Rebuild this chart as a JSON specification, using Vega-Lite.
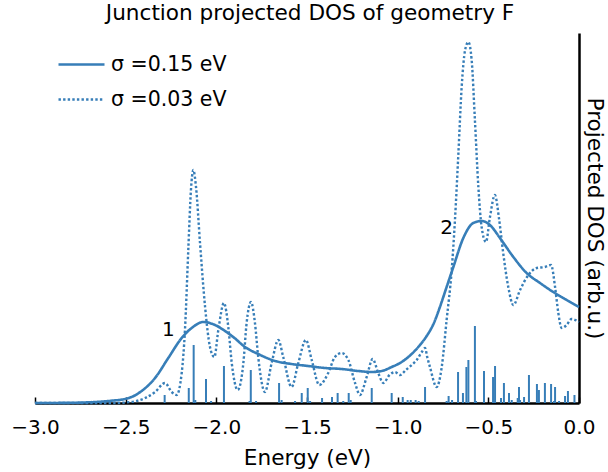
{
"$schema": "https://vega.github.io/schema/vega-lite/v6.json",
"width": 544, "height": 370,
"autosize": {"type": "none"},
"padding": {"left": 35, "top": 33, "right": 29, "bottom": 69},
"title": {"text": "Junction projected DOS of geometry F", "fontSize": 21.6, "fontWeight": "normal", "font": "DejaVu Sans", "frame": "group", "anchor": "middle", "baseline": "bottom", "offset": 6, "dy": 20, "dx": 3, "color": "black"},
"config": {"view": {"stroke": null}, "font": "DejaVu Sans"},
"datasets": {
"sticks": [
{"E":-2.285,"h":8},{"E":-2.152,"h":15},{"E":-2.125,"h":58},{"E":-2.116,"h":3},{"E":-2.057,"h":24},{"E":-2.029,"h":2},{"E":-1.958,"h":37},
{"E":-1.817,"h":2},{"E":-1.810,"h":33},{"E":-1.781,"h":2},{"E":-1.654,"h":20},{"E":-1.640,"h":3},{"E":-1.566,"h":2},{"E":-1.529,"h":10},{"E":-1.496,"h":15},{"E":-1.483,"h":2},{"E":-1.417,"h":5},
{"E":-1.362,"h":6},{"E":-1.331,"h":10},{"E":-1.300,"h":2},{"E":-1.270,"h":10},{"E":-1.259,"h":3},{"E":-1.143,"h":15},{"E":-1.033,"h":10},{"E":-0.972,"h":6},{"E":-0.945,"h":3},{"E":-0.928,"h":3},{"E":-0.901,"h":3},{"E":-0.884,"h":2},{"E":-0.849,"h":16},
{"E":-0.730,"h":2},{"E":-0.719,"h":7},{"E":-0.700,"h":3},{"E":-0.667,"h":31},{"E":-0.640,"h":10},{"E":-0.621,"h":36},{"E":-0.610,"h":43},{"E":-0.574,"h":77},{"E":-0.568,"h":2},{"E":-0.524,"h":32},{"E":-0.474,"h":26},{"E":-0.463,"h":37},{"E":-0.430,"h":5},{"E":-0.414,"h":20},{"E":-0.386,"h":10},{"E":-0.371,"h":3},
{"E":-0.338,"h":5},{"E":-0.331,"h":16},{"E":-0.325,"h":3},{"E":-0.303,"h":6},{"E":-0.276,"h":28},{"E":-0.232,"h":19},{"E":-0.221,"h":13},{"E":-0.188,"h":20},{"E":-0.154,"h":19},{"E":-0.138,"h":2},{"E":-0.132,"h":16},{"E":-0.110,"h":2},{"E":-0.077,"h":7},{"E":-0.061,"h":12},{"E":-0.025,"h":8}
],
"curves": [
{"series":"σ =0.15 eV","E":-3.0,"v":0},{"series":"σ =0.15 eV","E":-2.85,"v":0.1},{"series":"σ =0.15 eV","E":-2.75,"v":0.4},{"series":"σ =0.15 eV","E":-2.65,"v":1.2},{"series":"σ =0.15 eV","E":-2.58,"v":2.3},{"series":"σ =0.15 eV","E":-2.504,"v":4},{"series":"σ =0.15 eV","E":-2.45,"v":7.5},{"series":"σ =0.15 eV","E":-2.412,"v":12},{"series":"σ =0.15 eV","E":-2.338,"v":25},{"series":"σ =0.15 eV","E":-2.265,"v":45},{"series":"σ =0.15 eV","E":-2.191,"v":65},{"series":"σ =0.15 eV","E":-2.136,"v":75},{"series":"σ =0.15 eV","E":-2.072,"v":81},{"series":"σ =0.15 eV","E":-2.007,"v":78},{"series":"σ =0.15 eV","E":-1.952,"v":72},{"series":"σ =0.15 eV","E":-1.9,"v":65},{"series":"σ =0.15 eV","E":-1.842,"v":56},{"series":"σ =0.15 eV","E":-1.769,"v":49},{"series":"σ =0.15 eV","E":-1.676,"v":42},{"series":"σ =0.15 eV","E":-1.585,"v":39},{"series":"σ =0.15 eV","E":-1.493,"v":37},{"series":"σ =0.15 eV","E":-1.401,"v":35},{"series":"σ =0.15 eV","E":-1.309,"v":34},{"series":"σ =0.15 eV","E":-1.217,"v":32},{"series":"σ =0.15 eV","E":-1.143,"v":31},{"series":"σ =0.15 eV","E":-1.088,"v":32},{"series":"σ =0.15 eV","E":-1.033,"v":36},{"series":"σ =0.15 eV","E":-0.978,"v":41},{"series":"σ =0.15 eV","E":-0.923,"v":49},{"series":"σ =0.15 eV","E":-0.877,"v":58},{"series":"σ =0.15 eV","E":-0.840,"v":67},{"series":"σ =0.15 eV","E":-0.80,"v":80},{"series":"σ =0.15 eV","E":-0.767,"v":96},{"series":"σ =0.15 eV","E":-0.73,"v":116},{"series":"σ =0.15 eV","E":-0.693,"v":136},{"series":"σ =0.15 eV","E":-0.638,"v":165},{"series":"σ =0.15 eV","E":-0.583,"v":180},{"series":"σ =0.15 eV","E":-0.537,"v":182},{"series":"σ =0.15 eV","E":-0.491,"v":178},{"series":"σ =0.15 eV","E":-0.436,"v":165},{"series":"σ =0.15 eV","E":-0.362,"v":146},{"series":"σ =0.15 eV","E":-0.289,"v":130},{"series":"σ =0.15 eV","E":-0.215,"v":120},{"series":"σ =0.15 eV","E":-0.142,"v":111},{"series":"σ =0.15 eV","E":-0.068,"v":103},{"series":"σ =0.15 eV","E":0,"v":96},
{"series":"σ =0.03 eV","E":-3.0,"v":0},{"series":"σ =0.03 eV","E":-2.55,"v":0},{"series":"σ =0.03 eV","E":-2.5,"v":0.5},{"series":"σ =0.03 eV","E":-2.44,"v":2},{"series":"σ =0.03 eV","E":-2.393,"v":5},{"series":"σ =0.03 eV","E":-2.338,"v":11},{"series":"σ =0.03 eV","E":-2.283,"v":20},{"series":"σ =0.03 eV","E":-2.246,"v":11},{"series":"σ =0.03 eV","E":-2.219,"v":8},{"series":"σ =0.03 eV","E":-2.191,"v":30},{"series":"σ =0.03 eV","E":-2.173,"v":73},{"series":"σ =0.03 eV","E":-2.154,"v":156},{"series":"σ =0.03 eV","E":-2.140,"v":213},{"series":"σ =0.03 eV","E":-2.127,"v":233},{"series":"σ =0.03 eV","E":-2.112,"v":216},{"series":"σ =0.03 eV","E":-2.090,"v":160},{"series":"σ =0.03 eV","E":-2.062,"v":96},{"series":"σ =0.03 eV","E":-2.035,"v":56},{"series":"σ =0.03 eV","E":-2.011,"v":46},{"series":"σ =0.03 eV","E":-1.989,"v":73},{"series":"σ =0.03 eV","E":-1.958,"v":100},{"series":"σ =0.03 eV","E":-1.934,"v":76},{"series":"σ =0.03 eV","E":-1.915,"v":40},{"series":"σ =0.03 eV","E":-1.882,"v":13},{"series":"σ =0.03 eV","E":-1.851,"v":40},{"series":"σ =0.03 eV","E":-1.833,"v":80},{"series":"σ =0.03 eV","E":-1.809,"v":101},{"series":"σ =0.03 eV","E":-1.787,"v":80},{"series":"σ =0.03 eV","E":-1.769,"v":46},{"series":"σ =0.03 eV","E":-1.732,"v":11},{"series":"σ =0.03 eV","E":-1.695,"v":40},{"series":"σ =0.03 eV","E":-1.658,"v":63},{"series":"σ =0.03 eV","E":-1.631,"v":46},{"series":"σ =0.03 eV","E":-1.585,"v":16},{"series":"σ =0.03 eV","E":-1.548,"v":40},{"series":"σ =0.03 eV","E":-1.506,"v":63},{"series":"σ =0.03 eV","E":-1.474,"v":43},{"series":"σ =0.03 eV","E":-1.432,"v":18},{"series":"σ =0.03 eV","E":-1.383,"v":30},{"series":"σ =0.03 eV","E":-1.346,"v":46},{"series":"σ =0.03 eV","E":-1.309,"v":50},{"series":"σ =0.03 eV","E":-1.272,"v":43},{"series":"σ =0.03 eV","E":-1.235,"v":20},{"series":"σ =0.03 eV","E":-1.208,"v":8},{"series":"σ =0.03 eV","E":-1.171,"v":26},{"series":"σ =0.03 eV","E":-1.138,"v":44},{"series":"σ =0.03 eV","E":-1.107,"v":30},{"series":"σ =0.03 eV","E":-1.079,"v":20},{"series":"σ =0.03 eV","E":-1.045,"v":28},{"series":"σ =0.03 eV","E":-1.015,"v":31},{"series":"σ =0.03 eV","E":-0.987,"v":28},{"series":"σ =0.03 eV","E":-0.955,"v":33},{"series":"σ =0.03 eV","E":-0.923,"v":38},{"series":"σ =0.03 eV","E":-0.895,"v":43},{"series":"σ =0.03 eV","E":-0.867,"v":51},{"series":"σ =0.03 eV","E":-0.849,"v":55},{"series":"σ =0.03 eV","E":-0.837,"v":46},{"series":"σ =0.03 eV","E":-0.822,"v":36},{"series":"σ =0.03 eV","E":-0.785,"v":16},{"series":"σ =0.03 eV","E":-0.757,"v":36},{"series":"σ =0.03 eV","E":-0.730,"v":83},{"series":"σ =0.03 eV","E":-0.702,"v":133},{"series":"σ =0.03 eV","E":-0.684,"v":183},{"series":"σ =0.03 eV","E":-0.665,"v":250},{"series":"σ =0.03 eV","E":-0.647,"v":316},{"series":"σ =0.03 eV","E":-0.628,"v":353},{"series":"σ =0.03 eV","E":-0.610,"v":361},{"series":"σ =0.03 eV","E":-0.592,"v":343},{"series":"σ =0.03 eV","E":-0.574,"v":283},{"series":"σ =0.03 eV","E":-0.555,"v":216},{"series":"σ =0.03 eV","E":-0.537,"v":176},{"series":"σ =0.03 eV","E":-0.513,"v":161},{"series":"σ =0.03 eV","E":-0.491,"v":186},{"series":"σ =0.03 eV","E":-0.464,"v":208},{"series":"σ =0.03 eV","E":-0.440,"v":183},{"series":"σ =0.03 eV","E":-0.418,"v":150},{"series":"σ =0.03 eV","E":-0.390,"v":116},{"series":"σ =0.03 eV","E":-0.362,"v":98},{"series":"σ =0.03 eV","E":-0.325,"v":113},{"series":"σ =0.03 eV","E":-0.279,"v":128},{"series":"σ =0.03 eV","E":-0.233,"v":135},{"series":"σ =0.03 eV","E":-0.188,"v":136},{"series":"σ =0.03 eV","E":-0.154,"v":138},{"series":"σ =0.03 eV","E":-0.132,"v":116},{"series":"σ =0.03 eV","E":-0.114,"v":90},{"series":"σ =0.03 eV","E":-0.096,"v":75},{"series":"σ =0.03 eV","E":-0.068,"v":78},{"series":"σ =0.03 eV","E":-0.041,"v":84},{"series":"σ =0.03 eV","E":0,"v":81}
],
"labels": [{"E":-2.264,"v":73.5,"t":"1"},{"E":-0.730,"v":175,"t":"2"}]
},
"layer": [
{"data": {"name": "sticks"},
 "mark": {"type": "rule", "color": "#377eb8", "strokeWidth": 2},
 "encoding": {
  "x": {"field": "E", "type": "quantitative", "scale": {"domain": [-3, 0], "nice": false, "zero": false},
   "axis": {"title": "Energy (eV)", "titleFontSize": 21.6, "titleFontWeight": "normal", "titleColor": "black", "titleFont": "DejaVu Sans", "labelFontSize": 20, "labelFont": "DejaVu Sans", "labelColor": "black", "format": ".1f", "values": [-3, -2.5, -2, -1.5, -1, -0.5, 0], "labelFlush": false, "labelOverlap": false, "grid": false, "domainColor": "black", "domainWidth": 2.5, "tickColor": "black", "tickWidth": 1.5, "tickSize": -6, "labelPadding": 20, "titlePadding": 10}},
  "y": {"field": "h", "type": "quantitative", "scale": {"domain": [0, 370], "nice": false},
   "axis": {"orient": "right", "title": "Projected DOS (arb.u.)", "ticks": false, "labels": false, "grid": false, "domainColor": "black", "domainWidth": 2.5, "titleFontSize": 21.6, "titleFontWeight": "normal", "titleColor": "black", "titleFont": "DejaVu Sans", "titlePadding": 3}},
  "y2": {"datum": 0}
 }},
{"data": {"name": "curves"},
 "mark": {"type": "line", "color": "#377eb8", "interpolate": "monotone", "strokeCap": "butt"},
 "encoding": {
  "x": {"field": "E", "type": "quantitative"},
  "y": {"field": "v", "type": "quantitative"},
  "strokeDash": {"field": "series", "type": "nominal", "scale": {"domain": ["σ =0.15 eV", "σ =0.03 eV"], "range": [[1, 0], [2.4, 2.2]]},
   "legend": {"title": null, "orient": "none", "legendX": 22, "legendY": 7, "rowPadding": -4, "symbolType": "stroke", "symbolSize": 2116, "symbolStrokeColor": "#377eb8", "symbolStrokeWidth": 2.5, "labelFontSize": 20.5, "labelFont": "DejaVu Sans", "labelColor": "black", "labelOffset": 5, "padding": 0}},
  "strokeWidth": {"field": "series", "type": "nominal", "scale": {"domain": ["σ =0.15 eV", "σ =0.03 eV"], "range": [2.6, 2.4]}, "legend": null}
 }},
{"data": {"name": "labels"},
 "mark": {"type": "text", "fontSize": 20, "color": "black", "font": "DejaVu Sans"},
 "encoding": {
  "x": {"field": "E", "type": "quantitative"},
  "y": {"field": "v", "type": "quantitative"},
  "text": {"field": "t"}
 }}
]
}
